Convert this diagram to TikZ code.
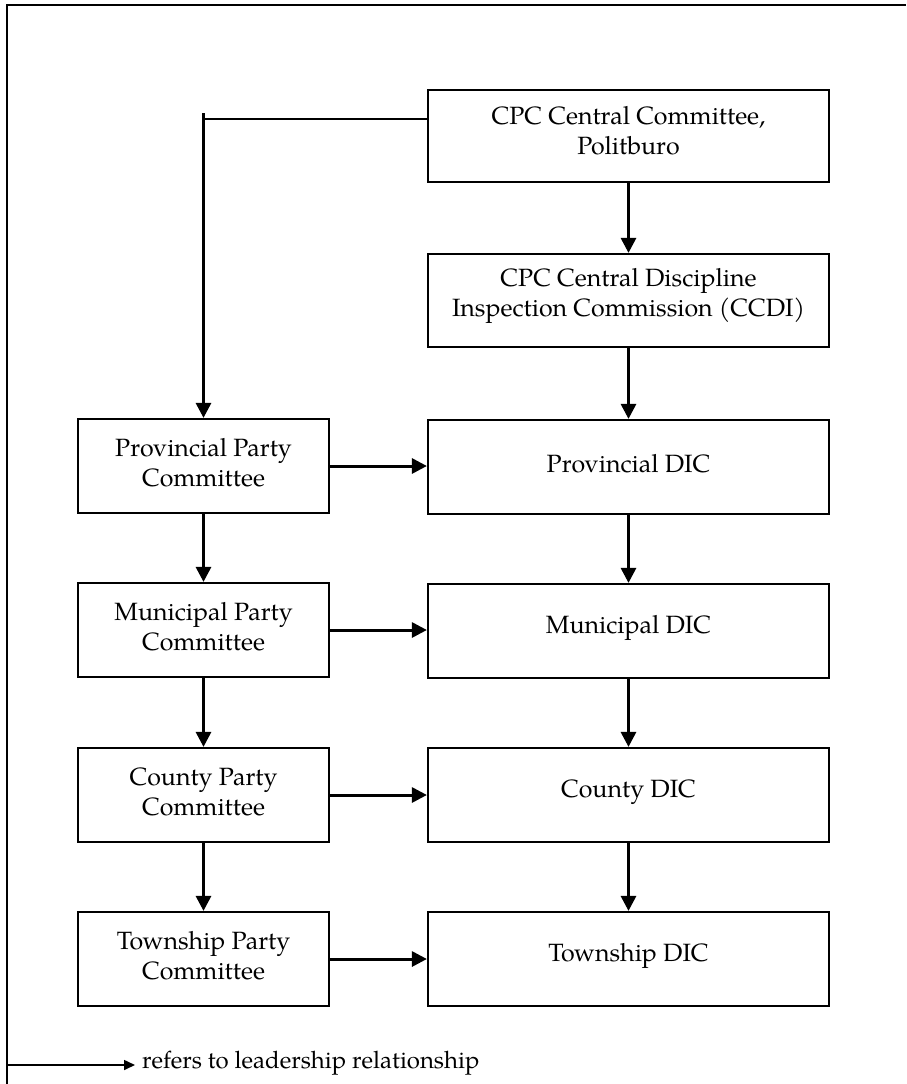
\documentclass[tikz,border=0pt]{standalone}
\usepackage{fontspec}
\setmainfont{TeX Gyre Pagella}
\usetikzlibrary{arrows.meta}
\begin{document}
\begin{tikzpicture}[x=1pt,y=-1pt,
  box/.style={draw, line width=2.2pt, minimum height=94pt, inner sep=0pt},
  lbox/.style={box, minimum width=251pt},
  rbox/.style={box, minimum width=401pt},
  txt/.style={font=\fontsize{25}{30}\selectfont, align=center, inner sep=0pt},
  arr/.style={line width=3pt, -{Triangle[length=15pt,width=15pt]}},
  plain/.style={line width=2pt},
]
\useasboundingbox (0,0) rectangle (906,1084);
% frame
\coordinate (fb) at (7,1084);
\coordinate (ftl) at (7,5);
\coordinate (fr) at (906,5);
\draw[line width=2.2pt] (fb) -- (ftl) -- (fr);

% right column boxes
\node[rbox, minimum height=92pt] (cpc) at (628.5,136) {};
\node[rbox, minimum height=93pt] (ccdi) at (628.5,300.5) {};
\node[rbox] (pdic) at (628.5,467) {};
\node[rbox] (mdic) at (628.5,631) {};
\node[rbox] (cdic) at (628.5,795) {};
\node[rbox] (tdic) at (628.5,959) {};
% left column boxes
\node[lbox] (ppc) at (203.5,466) {};
\node[lbox] (mpc) at (203.5,630) {};
\node[lbox] (cpcty) at (203.5,795) {};
\node[lbox] (tpc) at (203.5,959) {};

% texts
\node[txt] (cpcT) at ([yshift=5pt]cpc.center) {CPC Central Committee,\\Politburo};
\node[txt] (ccdiT) at ([yshift=5pt]ccdi.center) {CPC Central Discipline\\Inspection Commission (CCDI)};
\node[txt] (pdicT) at ([yshift=3pt]pdic.center) {Provincial DIC};
\node[txt] (mdicT) at ([yshift=3pt]mdic.center) {Municipal DIC};
\node[txt] (cdicT) at ([yshift=3pt]cdic.center) {County DIC};
\node[txt] (tdicT) at ([yshift=3pt]tdic.center) {Township DIC};
\node[txt] (ppcT) at ([yshift=3pt]ppc.center) {Provincial Party\\Committee};
\node[txt] (mpcT) at ([yshift=3pt]mpc.center) {Municipal Party\\Committee};
\node[txt] (cpctyT) at ([yshift=3pt]cpcty.center) {County Party\\Committee};
\node[txt] (tpcT) at ([yshift=3pt]tpc.center) {Township Party\\Committee};

% connectors
\coordinate (cpcL) at (428,119);
\coordinate (corner) at (203.5,119);
\coordinate (top) at (203.5,113);
\draw[plain] (cpcL) -- (corner);
\draw[arr] (top) -- (ppc.north);

\draw[arr] (cpc) -- (ccdi);
\draw[arr] (ccdi) -- (pdic);
\draw[arr] (pdic) -- (mdic);
\draw[arr] (mdic) -- (cdic);
\draw[arr] (cdic) -- (tdic);

\draw[arr] (ppc) -- (mpc);
\draw[arr] (mpc) -- (cpcty);
\draw[arr] (cpcty) -- (tpc);

\draw[arr] (ppc.east) -- (ppc.east -| pdic.west);
\draw[arr] (mpc.east) -- (mpc.east -| mdic.west);
\draw[arr] (cpcty.east) -- (cpcty.east -| cdic.west);
\draw[arr] (tpc.east) -- (tpc.east -| tdic.west);

% legend
\coordinate (lgs) at (7,1065);
\coordinate (lge) at (135,1065);
\node[anchor=west, inner sep=0pt, font=\fontsize{24}{28}\selectfont] (lgt) at (142,1063) {refers to leadership relationship};
\draw[line width=1.6pt, -{Triangle[length=11pt,width=10pt]}] (lgs) -- (lge);
\end{tikzpicture}
\end{document}
